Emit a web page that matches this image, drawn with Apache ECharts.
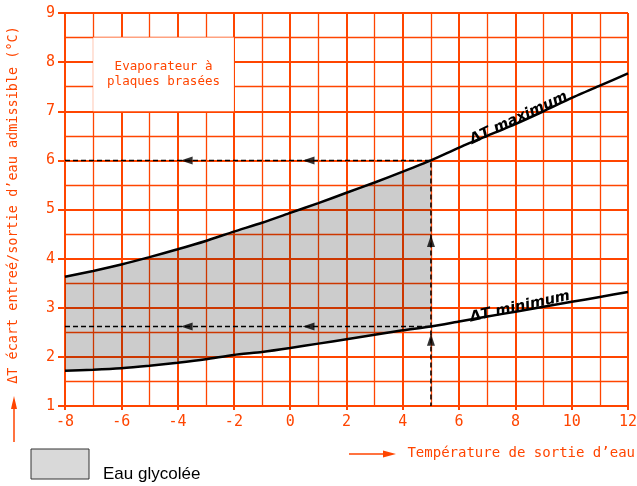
<!DOCTYPE html>
<html>
<head>
<meta charset="utf-8">
<script src="https://cdn.jsdelivr.net/npm/echarts@6/dist/echarts.min.js"></script>
<style>html,body{margin:0;padding:0;background:#fff}#c{width:637px;height:486px}</style>
</head>
<body>
<div id="c"></div>
<script>
// ---- data ----
const xTemps = [-8,-7,-6,-5,-4,-3,-2,-1,0,1,2,3,4,5,6,7,8,9,10,11,12];
const dtMax  = [3.63,3.75,3.88,4.03,4.19,4.36,4.55,4.73,4.93,5.13,5.34,5.55,5.77,6.0,6.26,6.5,6.74,7.0,7.27,7.52,7.77];
const dtMin  = [1.72,1.74,1.77,1.82,1.88,1.95,2.04,2.10,2.18,2.27,2.36,2.45,2.54,2.62,2.72,2.82,2.92,3.02,3.12,3.22,3.32];
const operatingTemp = 5;
const leftArrowX = [-3.68, 0.65];
const upArrowY = [2.35, 4.36];
const xTicks = [-8,-6,-4,-2,0,2,4,6,8,10,12];
const yTicks = [1,2,3,4,5,6,7,8,9];
const boxText = 'Evaporateur à\nplaques brasées';
const yTitle = 'ΔT écart entreé/sortie d’eau admissible (°C)';
const xTitle = 'Température de sortie d’eau';
const legendText = 'Eau glycolée';

const ORANGE = '#FF4500';
const MONO = '"DejaVu Sans Mono", monospace';

const maxPts = xTemps.map((x,i)=>[x, dtMax[i]]);
const minPts = xTemps.map((x,i)=>[x, dtMin[i]]);
const opIdx = xTemps.indexOf(operatingTemp);
const opMax = dtMax[opIdx], opMin = dtMin[opIdx];
const shadeTop = maxPts.slice(0, opIdx+1);
const shadeBottom = minPts.slice(0, opIdx+1).reverse();

const chart = echarts.init(document.getElementById('c'), null, {renderer:'canvas'});
const opt = {
  animation:false,
  grid:{left:65,right:9,top:13,bottom:80, containLabel:false, outerBoundsMode:'none'},
  xAxis:{
    type:'value', min:-8, max:12, interval:2,
    axisLine:{show:true, onZero:false, lineStyle:{color:ORANGE,width:2}},
    axisTick:{show:true, length:4, lineStyle:{color:ORANGE,width:2}},
    axisLabel:{color:ORANGE, fontFamily:MONO, fontSize:15, margin:9,
      formatter:v=> xTicks.includes(v) ? String(v) : ''},
    splitLine:{show:true, lineStyle:{color:ORANGE,width:2}},
    minorTick:{show:false, splitNumber:2},
    minorSplitLine:{show:true, lineStyle:{color:ORANGE,width:1.3}}
  },
  yAxis:{
    type:'value', min:1, max:9, interval:1,
    axisLine:{show:true, onZero:false, lineStyle:{color:ORANGE,width:2}},
    axisTick:{show:true, length:7, lineStyle:{color:ORANGE,width:2}},
    axisLabel:{color:ORANGE, fontFamily:MONO, fontSize:15, margin:10,
      formatter:v=> yTicks.includes(v) ? String(v) : ''},
    splitLine:{show:true, lineStyle:{color:ORANGE,width:2}},
    minorTick:{show:false, splitNumber:2},
    minorSplitLine:{show:true, lineStyle:{color:ORANGE,width:1.3}}
  },
  series:[
    {
      type:'custom', name:'shade', silent:true, z:2,
      data:[[0,0]],
      renderItem:function(params, api){
        const pts = shadeTop.concat(shadeBottom).map(p=>api.coord(p));
        return {type:'polygon', shape:{points:pts}, style:{fill:'rgba(0,0,0,0.2)', stroke:null}};
      },
      markArea:{
        silent:true,
        itemStyle:{color:'#fff', opacity:1},
        label:{show:true, position:'inside', color:ORANGE, fontFamily:MONO, fontSize:12.5, lineHeight:15, align:'center'},
        data:[[{coord:[-7,8.5], name:boxText},{coord:[-2,7]}]]
      }
    },
    {
      type:'line', name:'dashed', silent:true, z:3, symbol:'none',
      data:[[-8,opMax],[operatingTemp,opMax],[operatingTemp,1]],
      lineStyle:{color:'#000', width:1.5, type:[5,3]}
    },
    {
      type:'line', name:'dashed2', silent:true, z:3, symbol:'none',
      data:[[-8,opMin],[operatingTemp,opMin]],
      lineStyle:{color:'#000', width:1.5, type:[5,3]}
    },
    {
      type:'line', name:'max', silent:true, z:4, symbol:'none', smooth:0.2,
      data:maxPts, lineStyle:{color:'#000', width:2.5},
      markPoint:{
        silent:true, symbol:'circle', symbolSize:0,
        label:{show:true, formatter:'{b}', color:'#000', fontFamily:'"DejaVu Sans", sans-serif',
          fontWeight:'bold', fontStyle:'italic', fontSize:14.5, rotate:25},
        data:[{name:'ΔT maximum', coord:[8.12,6.86]}]
      }
    },
    {
      type:'line', name:'min', silent:true, z:4, symbol:'none', smooth:0.2,
      data:minPts, lineStyle:{color:'#000', width:2.5},
      markPoint:{
        silent:true, symbol:'circle', symbolSize:0,
        label:{show:true, formatter:'{b}', color:'#000', fontFamily:'"DejaVu Sans", sans-serif',
          fontWeight:'bold', fontStyle:'italic', fontSize:14.5, rotate:12.5},
        data:[{name:'ΔT minimum', coord:[8.16,3.02]}]
      }
    },
    {
      type:'scatter', name:'leftArrows', silent:true, z:5,
      symbol:'triangle', symbolSize:[8,12], symbolRotate:90,
      itemStyle:{color:'#000'},
      data:leftArrowX.map(x=>[x,opMax]).concat(leftArrowX.map(x=>[x,opMin]))
    },
    {
      type:'scatter', name:'upArrows', silent:true, z:5,
      symbol:'triangle', symbolSize:[8,12],
      itemStyle:{color:'#000'},
      data:upArrowY.map(y=>[operatingTemp,y])
    }
  ],
  graphic:[
    {type:'text', x:13, y:205, rotation:Math.PI/2,
      style:{text:yTitle, fill:ORANGE, font:'13.5px "DejaVu Sans Mono"', textAlign:'center', textVerticalAlign:'middle'}},
    {type:'line', shape:{x1:14,y1:442,x2:14,y2:404}, style:{stroke:ORANGE, lineWidth:1.5}},
    {type:'polygon', shape:{points:[[14,396],[11,409],[17,409]]}, style:{fill:ORANGE}},
    {type:'text', x:635, y:453,
      style:{text:xTitle, fill:ORANGE, font:'14px "DejaVu Sans Mono"', textAlign:'right', textVerticalAlign:'middle'}},
    {type:'line', shape:{x1:349,y1:454,x2:386,y2:454}, style:{stroke:ORANGE, lineWidth:1.5}},
    {type:'polygon', shape:{points:[[396,454],[383,450.5],[383,457.5]]}, style:{fill:ORANGE}},
    {type:'rect', shape:{x:31,y:449,width:58,height:30}, style:{fill:'#d9d9d9', stroke:'#333', lineWidth:1}},
    {type:'text', x:103, y:474,
      style:{text:legendText, fill:'#000', font:'17px "Liberation Sans", Arial', textAlign:'left', textVerticalAlign:'middle'}}
  ]
};
chart.setOption(opt);
</script>
</body>
</html>
